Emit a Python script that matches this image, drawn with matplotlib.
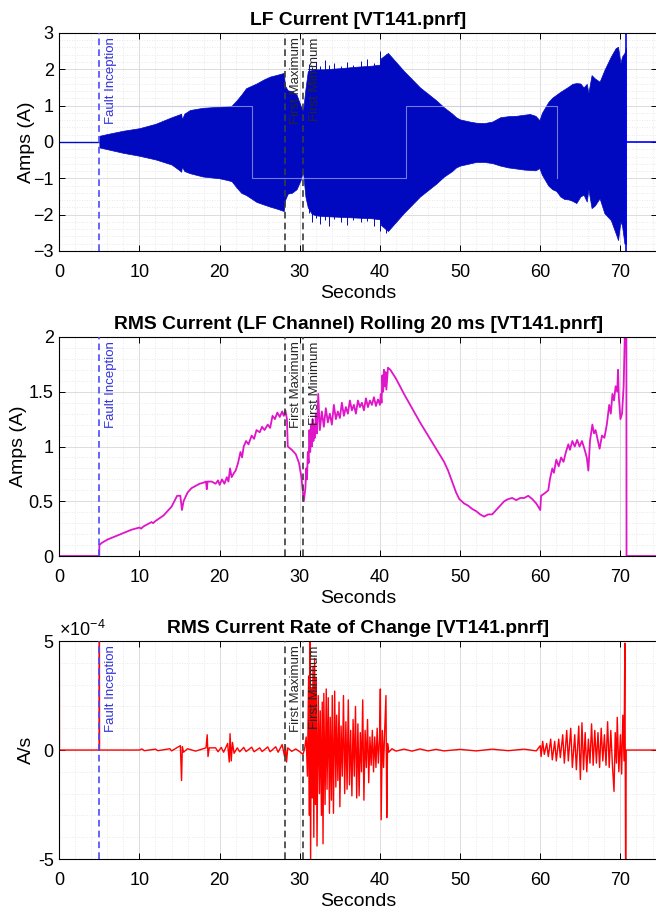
import numpy as np
import matplotlib
matplotlib.use("Agg")
import matplotlib.pyplot as plt
from matplotlib.ticker import MultipleLocator, FuncFormatter

plt.rcParams['font.family'] = ['Liberation Sans', 'DejaVu Sans']
plt.rcParams['mathtext.fontset'] = 'custom'
plt.rcParams['mathtext.rm'] = 'Liberation Sans'
plt.rcParams['mathtext.it'] = 'Liberation Sans'

# event markers (seconds)
event_names = ["Fault Inception", "First Maximum", "First Minimum"]
event_times = [5.0, 28.1, 30.4]

# LF current: envelope of the oscillation (t, upper, lower)
envelope = [
    (5.0, 0.17, -0.15), (6, 0.22, -0.2), (8, 0.31, -0.3), (10, 0.38, -0.38),
    (12, 0.5, -0.48), (14, 0.68, -0.62), (15.0, 0.76, -0.78), (15.2, 0.78, -0.82),
    (15.3, 0.62, -0.68), (15.6, 0.78, -0.8), (16.3, 0.88, -0.86), (17.9, 0.94, -0.95),
    (20, 0.97, -1.0), (21, 0.98, -1.05), (21.5, 1.0, -1.08), (22.1, 1.14, -1.25),
    (22.7, 1.3, -1.4), (23.3, 1.48, -1.46), (24.6, 1.61, -1.65), (25.5, 1.72, -1.72),
    (26.3, 1.8, -1.78), (27.2, 1.85, -1.84), (28.0, 1.9, -1.9), (28.15, 1.55, -1.6),
    (28.5, 1.42, -1.42), (29.0, 1.4, -1.4), (29.6, 1.3, -1.3), (30.1, 1.0, -1.05),
    (30.4, 0.85, -0.8), (30.7, 1.45, -1.5), (31.0, 1.95, -1.8), (31.5, 1.98, -1.98),
    (32, 2.0, -2.02), (33, 2.0, -2.04), (35, 2.03, -2.06), (37, 2.07, -2.08),
    (39, 2.1, -2.1), (40.0, 2.13, -2.13), (40.1, 2.3, -2.28), (41.0, 2.45, -2.45),
    (43, 1.95, -1.95), (45, 1.5, -1.5), (47, 1.15, -1.15), (48, 0.95, -0.95),
    (49, 0.78, -0.8), (49.5, 0.68, -0.7), (50, 0.62, -0.65), (51, 0.57, -0.6),
    (52, 0.53, -0.55), (53, 0.52, -0.55), (54, 0.56, -0.58), (55, 0.68, -0.65),
    (56, 0.71, -0.7), (57, 0.72, -0.73), (58, 0.75, -0.76), (58.7, 0.77, -0.77),
    (59.4, 0.72, -0.78), (59.9, 0.6, -0.72), (60.2, 0.8, -0.9), (60.6, 0.95, -1.05),
    (61, 1.1, -1.2), (61.5, 1.22, -1.3), (62, 1.3, -1.35), (62.5, 1.38, -1.5),
    (63, 1.45, -1.57), (63.5, 1.52, -1.58), (64, 1.6, -1.62), (64.5, 1.62, -1.68),
    (65, 1.61, -1.5), (65.4, 1.5, -1.45), (65.8, 1.6, -1.64), (66.0, 1.35, -1.3),
    (66.4, 1.84, -1.82), (66.8, 1.75, -1.75), (67.4, 1.66, -1.55), (68.0, 1.98, -1.96),
    (68.8, 2.35, -2.15), (69.4, 2.58, -2.51), (69.7, 2.62, -2.7), (70.0, 2.17, -2.19),
    (70.2, 2.35, -2.3), (70.5, 2.45, -2.8), (70.7, 2.6, -2.8),
]
# spikes poking out of the envelope (t, up, down)
spikes = [
    (31.2, 2.15, -1.95), (31.5, 2.05, -2.2), (32.0, 2.2, -2.1), (32.5, 2.1, -2.25),
    (33.1, 2.25, -2.15), (33.6, 2.12, -2.3), (34.3, 2.18, -2.12), (35.1, 2.1, -2.2),
    (35.9, 2.2, -2.28), (36.7, 2.12, -2.15), (37.6, 2.22, -2.2), (38.4, 2.28, -2.18),
    (39.2, 2.18, -2.3), (40.0, 2.5, -2.45), (40.7, 2.42, -2.5),
]
# faint square-wave trace
sq_t = [5.0, 24.0, 24.0, 43.2, 43.2, 62.1, 62.1]
sq_v = [1, 1, -1, -1, 1, 1, -1]

# RMS current, rolling 20 ms (t, A)
rms_points = [
    (0, 0), (4.98, 0), (5.0, 0.10), (5.3, 0.12), (6, 0.15), (7, 0.18), (8, 0.21),
    (9, 0.24), (10, 0.26), (10.2, 0.25), (10.5, 0.27), (11, 0.29), (11.5, 0.31),
    (11.7, 0.30), (12, 0.32), (13, 0.37), (14, 0.45), (14.7, 0.55), (15.1, 0.55),
    (15.3, 0.42), (15.5, 0.50), (16, 0.58), (16.5, 0.62), (17, 0.64), (17.5, 0.66),
    (18, 0.67), (18.3, 0.68), (18.4, 0.61), (18.5, 0.68), (19, 0.68), (19.5, 0.66),
    (19.8, 0.69), (20, 0.65), (20.3, 0.70), (20.6, 0.66), (20.9, 0.72), (21.1, 0.68),
    (21.3, 0.80), (21.5, 0.72), (21.8, 0.76), (22.0, 0.78), (22.3, 0.85), (22.6, 0.95),
    (22.8, 0.90), (23.0, 1.00), (23.3, 1.05), (23.6, 1.02), (24, 1.10), (24.3, 1.07),
    (24.6, 1.15), (25, 1.13), (25.3, 1.18), (25.6, 1.15), (26, 1.20), (26.3, 1.17),
    (26.6, 1.28), (26.9, 1.25), (27.2, 1.31), (27.5, 1.27), (27.8, 1.32), (28.0, 1.28),
    (28.2, 1.33), (28.4, 1.25), (28.5, 1.00), (29.0, 0.97), (29.5, 0.93), (29.9, 0.85),
    (30.2, 0.72), (30.5, 0.50), (30.7, 0.62), (30.8, 0.80), (30.9, 0.70), (31.0, 0.95),
    (31.1, 0.85), (31.2, 1.15), (31.3, 0.95), (31.4, 1.20), (31.5, 1.00), (31.6, 1.25),
    (31.7, 1.05), (31.8, 1.20), (31.9, 1.08), (32.0, 1.30), (32.15, 1.12), (32.3, 1.48),
    (32.5, 1.15), (32.75, 1.32), (33.0, 1.18), (33.25, 1.35), (33.5, 1.22), (33.75, 1.30),
    (34.0, 1.20), (34.25, 1.38), (34.5, 1.25), (34.75, 1.32), (35.0, 1.26), (35.25, 1.40),
    (35.5, 1.28), (35.75, 1.36), (36.0, 1.30), (36.25, 1.42), (36.5, 1.33), (36.75, 1.38),
    (37.0, 1.30), (37.25, 1.42), (37.5, 1.36), (37.75, 1.40), (38.0, 1.33), (38.25, 1.44),
    (38.5, 1.36), (38.75, 1.42), (39.0, 1.38), (39.25, 1.45), (39.5, 1.37), (39.75, 1.43),
    (40.0, 1.38), (40.1, 1.48), (40.2, 1.40), (40.3, 1.65), (40.4, 1.50), (40.5, 1.70),
    (40.6, 1.55), (40.7, 1.68), (40.8, 1.52), (41.0, 1.72), (41.3, 1.70), (42, 1.62),
    (43, 1.48), (44, 1.35), (45, 1.22), (46, 1.10), (47, 0.98), (48, 0.86), (48.5, 0.78),
    (49, 0.68), (49.5, 0.58), (49.9, 0.52), (50.5, 0.48), (51, 0.46), (51.5, 0.43),
    (52, 0.41), (52.5, 0.38), (53, 0.36), (53.5, 0.38), (54, 0.38), (54.5, 0.42),
    (55, 0.46), (55.5, 0.50), (56, 0.52), (56.5, 0.53), (57, 0.51), (57.5, 0.53),
    (58, 0.53), (58.5, 0.55), (59, 0.52), (59.5, 0.48), (60.0, 0.42), (60.1, 0.55),
    (60.5, 0.57), (61, 0.60), (61.2, 0.70), (61.5, 0.80), (61.7, 0.76), (62, 0.88),
    (62.3, 0.82), (62.6, 0.90), (62.9, 0.86), (63.2, 0.95), (63.5, 1.02), (63.7, 0.97),
    (64, 1.05), (64.3, 1.00), (64.6, 1.06), (64.9, 1.00), (65.2, 1.05), (65.5, 0.98),
    (65.8, 0.90), (66.0, 0.78), (66.2, 1.05), (66.5, 1.20), (66.7, 1.12), (66.9, 1.15),
    (67.2, 1.05), (67.4, 0.98), (67.7, 1.10), (68.0, 1.08), (68.3, 1.20), (68.6, 1.38),
    (68.8, 1.30), (69.0, 1.48), (69.2, 1.42), (69.4, 1.55), (69.6, 1.50), (69.7, 1.70),
    (69.8, 1.45), (70.0, 1.25), (70.2, 1.30), (70.4, 1.55), (70.6, 2.20), (70.74, 2.20),
    (70.76, 0), (74.6, 0),
]

# rate of change of RMS current, in units of 1e-4 A/s (t, value)
roc_points = [
    (0, 6), (0.02, 0), (4.98, 0), (5.0, 6), (5.02, 0), (10, 0), (10.3, 0.05),
    (10.6, -0.03), (12, 0.04), (12.3, -0.03), (13.8, 0.06), (14, -0.04), (15.1, 0.2),
    (15.25, -1.4), (15.35, 0.15), (15.5, -0.1), (16, 0.06), (17, -0.05), (18.3, 0.1),
    (18.45, 0.7), (18.55, -0.3), (18.7, 0.1), (19.5, 0.1), (19.8, -0.08), (20.2, 0.12),
    (20.5, -0.1), (21.0, 0.3), (21.2, -0.55), (21.3, 0.75), (21.45, -0.5), (21.6, 0.35),
    (21.8, -0.15), (22.2, 0.1), (22.5, -0.08), (23, 0.12), (23.3, -0.07), (24, 0.13),
    (24.3, -0.08), (25, 0.1), (25.3, -0.07), (26, 0.14), (26.3, -0.08), (27, 0.15),
    (27.3, -0.1), (27.8, 0.25), (28.1, -0.3), (28.2, 0.2), (28.35, -0.55), (28.5, 0.1),
    (29, -0.06), (29.5, 0.05), (30, -0.08), (30.4, -0.2), (30.6, 0.05), (30.8, 0.6),
    (30.95, -1.2), (31.1, 3.4), (31.2, -3.0), (31.25, 5.2), (31.35, -5.2), (31.45, 2.8),
    (31.55, -2.2), (31.65, 3.8), (31.75, -4.0), (31.85, 4.2), (31.95, -2.5), (32.05, 3.3),
    (32.15, -4.4), (32.3, 2.5), (32.45, -2.0), (32.55, 1.8), (32.7, -3.0), (32.8, 2.2),
    (32.9, -4.3), (33.0, 2.6), (33.15, -2.5), (33.3, 2.8), (33.4, -1.8), (33.55, 2.4),
    (33.7, -2.9), (33.8, 1.5), (33.95, -2.3), (34.05, 2.5), (34.2, -2.9), (34.35, 2.7),
    (34.5, -1.7), (34.6, 1.6), (34.75, -1.4), (34.9, 2.2), (35.0, -2.6), (35.15, 1.1),
    (35.3, -1.2), (35.45, 2.5), (35.6, -2.0), (35.75, 1.3), (35.9, -1.8), (36.05, 2.3),
    (36.2, -1.6), (36.35, 0.9), (36.5, -2.1), (36.65, 1.4), (36.8, -1.2), (36.95, 2.0),
    (37.1, -2.2), (37.25, 1.2), (37.4, -2.1), (37.55, 0.8), (37.7, -1.0), (37.85, 2.3),
    (38.0, -2.3), (38.15, 0.9), (38.3, -0.8), (38.45, 1.4), (38.6, -1.5), (38.75, 0.6),
    (38.9, -0.7), (39.05, 0.9), (39.2, -1.0), (39.35, 0.6), (39.5, -0.8), (39.65, 1.0),
    (39.8, -0.6), (39.95, 0.5), (40.05, 2.8), (40.15, -3.2), (40.3, 0.9), (40.45, -0.8),
    (40.6, 1.0), (40.75, 2.5), (40.85, -3.1), (40.95, 0.3), (41.1, -0.1), (41.5, 0.06),
    (42, -0.05), (43, 0.04), (44, -0.05), (45, 0.05), (46, -0.04), (47, 0.03),
    (48, -0.04), (50, 0.03), (52, -0.04), (54, 0.04), (56, -0.03), (58, 0.04),
    (59.5, -0.04), (60.0, 0.2), (60.1, -0.3), (60.3, 0.4), (60.5, -0.2), (60.8, 0.3),
    (61.0, -0.3), (61.3, 0.5), (61.5, -0.45), (61.8, 0.4), (62.0, -0.5), (62.3, 0.5),
    (62.5, -0.35), (62.8, 0.7), (63.0, -0.6), (63.3, 0.9), (63.5, -0.5), (63.8, 1.0),
    (64.0, -0.8), (64.3, 0.7), (64.5, -0.9), (64.8, 1.1), (65.0, -1.35), (65.2, 1.25),
    (65.4, -0.9), (65.6, 0.8), (65.8, -1.0), (66.0, 0.5), (66.2, -0.6), (66.4, 1.2),
    (66.6, -0.7), (66.8, 0.9), (67.0, -0.6), (67.2, 0.8), (67.4, -0.8), (67.6, 1.0),
    (67.8, -0.5), (68.0, 0.7), (68.2, -0.7), (68.4, 1.3), (68.6, -0.8), (68.8, 0.9),
    (69.0, -0.7), (69.2, -1.9), (69.35, 0.8), (69.5, -0.6), (69.6, 1.5), (69.8, -1.0),
    (70.0, 0.7), (70.15, -1.1), (70.3, 1.6), (70.45, -0.5), (70.55, 4.9), (70.65, -6.0),
    (70.72, 0.0), (74.6, 0.0),
]

XMAX = 74.6


def style_axes(ax, title, ylabel, label_x):
    ax.set_xlim(0, XMAX)
    ax.xaxis.set_major_locator(MultipleLocator(10))
    ax.xaxis.set_minor_locator(MultipleLocator(2))
    ax.grid(which='major', color='#dcdcdc', linewidth=0.7)
    ax.grid(which='minor', color='#e2e2e2', linewidth=0.6, linestyle=(0, (1, 2)))
    ax.set_axisbelow(True)
    ax.tick_params(which='major', direction='in', length=4, width=0.7,
                   top=True, right=True, labelsize=13, pad=4)
    ax.tick_params(which='minor', length=0)
    ax.tick_params(axis='x', pad=9.5)
    ax.set_title(title, fontsize=13.9, fontweight='bold', pad=6)
    ax.set_xlabel('Seconds', fontsize=14, labelpad=3)
    ax.set_ylabel(ylabel, fontsize=14)
    ax.yaxis.set_label_coords(label_x, 0.5)
    for s in ax.spines.values():
        s.set_linewidth(0.8)


def add_events(ax):
    for name, t in zip(event_names, event_times):
        if name == "Fault Inception":
            lc, tc = '#4a4aff', '#3333dd'
        else:
            lc, tc = '#3c3c3c', '#262626'
        ax.axvline(t, color=lc, linestyle=(0, (4, 2.5)), linewidth=1.2, zorder=5)
        ax.annotate(name, xy=(t, 1), xycoords=ax.get_xaxis_transform(),
                    xytext=(4, -3), textcoords='offset points', rotation=90,
                    ha='left', va='top', fontsize=9.5, color=tc, zorder=6)


env_t, env_hi, env_lo = zip(*envelope)
spike_t, spike_hi, spike_lo = zip(*spikes)
rms_t, rms_v = zip(*rms_points)
roc_t, roc_v = zip(*roc_points)

fig = plt.figure(figsize=(6.56, 9.13), dpi=100)
ax1 = fig.add_axes([0.0904, 0.7251, 0.9116, 0.2388])
ax2 = fig.add_axes([0.0904, 0.3910, 0.9116, 0.2399])
ax3 = fig.add_axes([0.0904, 0.0591, 0.9116, 0.2388])

# --- LF current
ax1.plot([0, event_times[0]], [0, 0], color='#0008c8', linewidth=1.0)
ax1.fill_between(env_t, env_lo, env_hi, color='#0008c0', linewidth=0.5, edgecolor='#0008c0')
ax1.vlines(spike_t, 0, spike_hi, color='#0008c0', linewidth=0.7)
ax1.vlines(spike_t, 0, spike_lo, color='#0008c0', linewidth=0.7)
ax1.plot(sq_t, sq_v, color='#c8c8eb', linewidth=0.8, alpha=0.6, zorder=3)
t_end = env_t[-1] + 0.05
ax1.plot([t_end, t_end, XMAX], [-4, 0, 0], color='#0000ff', linewidth=1.2)
ax1.plot([t_end, t_end], [0, 4], color='#0000ff', linewidth=1.2)
ax1.set_ylim(-3, 3)
ax1.yaxis.set_major_locator(MultipleLocator(1))
ax1.yaxis.set_minor_locator(MultipleLocator(0.2))
style_axes(ax1, 'LF Current [VT141.pnrf]', 'Amps (A)', -0.041)
add_events(ax1)

# --- RMS current
ax2.plot(rms_t, rms_v, color='#e014c8', linewidth=1.3)
ax2.set_ylim(0, 2)
ax2.yaxis.set_major_locator(MultipleLocator(0.5))
ax2.yaxis.set_minor_locator(MultipleLocator(0.1))
ax2.yaxis.set_major_formatter(FuncFormatter(lambda v, p: ('%g' % v)))
style_axes(ax2, 'RMS Current (LF Channel) Rolling 20 ms [VT141.pnrf]', 'Amps (A)', -0.054)
add_events(ax2)

# --- rate of change
ax3.plot(roc_t, np.array(roc_v) * 1e-4, color='#ff0000', linewidth=1.0)
ax3.set_ylim(-5e-4, 5e-4)
ax3.yaxis.set_major_locator(MultipleLocator(5e-4))
ax3.yaxis.set_minor_locator(MultipleLocator(1e-4))
ax3.yaxis.set_major_formatter(FuncFormatter(lambda v, p: '%g' % round(v * 1e4)))
style_axes(ax3, 'RMS Current Rate of Change [VT141.pnrf]', 'A/s', -0.041)
ax3.text(0.0, 1.003, r'$\times10^{-4}$', transform=ax3.transAxes, fontsize=13,
         ha='left', va='bottom')
add_events(ax3)

fig.savefig('out.png', dpi=100)
